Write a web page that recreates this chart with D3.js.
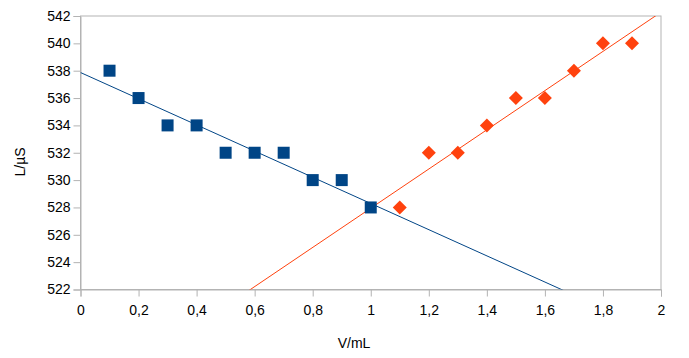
<!DOCTYPE html>
<html><head><meta charset="utf-8">
<script src="https://cdn.jsdelivr.net/npm/d3@7"></script>
<style>body{margin:0;background:#fff}svg{display:block}text{font-family:"Liberation Sans",Arial,sans-serif;fill:#000}</style>
</head><body><svg id="c" width="689" height="358"></svg>
<script>
const blueX = [0.1,0.2,0.3,0.4,0.5,0.6,0.7,0.8,0.9,1.0];
const blueY = [538,536,534,534,532,532,532,530,530,528];
const redX = [1.1,1.2,1.3,1.4,1.5,1.6,1.7,1.8,1.9];
const redY = [528,532,532,534,536,536,538,540,540];
const xTicks = [0,0.2,0.4,0.6,0.8,1,1.2,1.4,1.6,1.8,2];
const yTicks = [522,524,526,528,530,532,534,536,538,540,542];

const svg = d3.select("#c");
const L=80.5,R=661,T=16,B=289.5;
const x = d3.scaleLinear().domain([0,2]).range([L,R]);
const y = d3.scaleLinear().domain([522,542]).range([B,T]);
const grey="#b3b3b3";
const fmt = d => String(+d.toFixed(1)).replace(".",",");

svg.append("defs").append("clipPath").attr("id","clip")
  .append("rect").attr("x",L).attr("y",T).attr("width",R-L).attr("height",B-T);

svg.append("rect").attr("x",L).attr("y",T).attr("width",R-L).attr("height",B-T)
  .attr("fill","none").attr("stroke",grey).attr("stroke-width",1);

const xa = svg.append("g").attr("transform",`translate(0,${B})`)
  .call(d3.axisBottom(x).tickValues(xTicks).tickFormat(fmt).tickSize(7).tickPadding(9));
const ya = svg.append("g").attr("transform",`translate(${L},0)`)
  .call(d3.axisLeft(y).tickValues(yTicks).tickSize(7).tickPadding(3));
[xa,ya].forEach(a=>{a.selectAll("path,line").attr("stroke",grey);
  a.selectAll("text").attr("font-size",14).attr("font-family","Liberation Sans, Arial").attr("fill","#000");});

function reg(xs,ys){const n=xs.length,mx=d3.mean(xs),my=d3.mean(ys);
  let sxy=0,sxx=0;for(let i=0;i<n;i++){sxy+=(xs[i]-mx)*(ys[i]-my);sxx+=(xs[i]-mx)**2;}
  const m=sxy/sxx;return v=>my+m*(v-mx);}
const fb=reg(blueX,blueY), fr=reg(redX,redY);
const g=svg.append("g").attr("clip-path","url(#clip)");
const line=d3.line().x(d=>x(d[0])).y(d=>y(d[1]));
g.append("path").attr("d",line([[0,fb(0)],[2,fb(2)]])).attr("stroke","#004586").attr("stroke-width",1).attr("fill","none");
g.append("path").attr("d",line([[0,fr(0)],[2,fr(2)]])).attr("stroke","#ff420e").attr("stroke-width",1).attr("fill","none");

const s=12;
svg.append("g").selectAll("rect").data(blueX.map((v,i)=>[v,blueY[i]])).join("rect")
  .attr("x",d=>x(d[0])-s/2).attr("y",d=>y(d[1])-s/2).attr("width",s).attr("height",s).attr("fill","#004586");
const dsz=7;
svg.append("g").selectAll("path").data(redX.map((v,i)=>[v,redY[i]])).join("path")
  .attr("d",d=>{const cx=x(d[0]),cy=y(d[1]);return `M${cx},${cy-dsz}L${cx+dsz},${cy}L${cx},${cy+dsz}L${cx-dsz},${cy}Z`;})
  .attr("fill","#ff420e");

svg.append("text").attr("x",354).attr("y",348).attr("text-anchor","middle").attr("font-size",14).text("V/mL");
svg.append("text").attr("transform","translate(25,162) rotate(-90)").attr("text-anchor","middle").attr("font-size",14).text("L/µS");
</script></body></html>
